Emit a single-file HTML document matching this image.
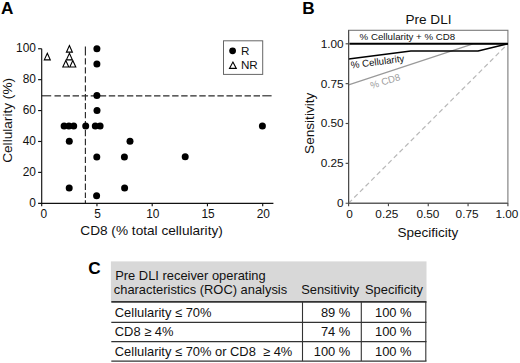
<!DOCTYPE html>
<html><head><meta charset="utf-8">
<style>
html,body{margin:0;padding:0;background:#fff;}
body{width:520px;height:363px;overflow:hidden;}
svg{display:block;font-family:"Liberation Sans",sans-serif;}
</style></head>
<body>
<svg width="520" height="363" viewBox="0 0 520 363">
<rect width="520" height="363" fill="#fff"/>
<text x="0.9" y="13.7" font-size="17.2" font-weight="bold" fill="#000">A</text>
<g stroke="#2a2a2a" stroke-width="1.15" fill="none">
<line x1="85.4" y1="46.5" x2="85.4" y2="55.6"/>
<line x1="85.4" y1="58.3" x2="85.4" y2="198" stroke-dasharray="6.3 2.65"/>
<line x1="85.4" y1="200.2" x2="85.4" y2="203.3"/>
<line x1="41.7" y1="95.8" x2="51.2" y2="95.8"/>
<line x1="54.5" y1="95.8" x2="260" y2="95.8" stroke-dasharray="6.4 2.65"/>
<line x1="262.3" y1="95.8" x2="271.6" y2="95.8"/>
</g>
<g stroke="#111" stroke-width="1.15" fill="none">
<line x1="41.7" y1="48.75" x2="41.7" y2="206.3"/>
<line x1="38.1" y1="203.3" x2="273.4" y2="203.3"/>
<line x1="38.1" y1="172.39" x2="41.7" y2="172.39"/>
<line x1="38.1" y1="141.48" x2="41.7" y2="141.48"/>
<line x1="38.1" y1="110.57" x2="41.7" y2="110.57"/>
<line x1="38.1" y1="79.66" x2="41.7" y2="79.66"/>
<line x1="38.1" y1="48.75" x2="41.7" y2="48.75"/>
<line x1="96.95" y1="203.3" x2="96.95" y2="206.3"/>
<line x1="152.20" y1="203.3" x2="152.20" y2="206.3"/>
<line x1="207.45" y1="203.3" x2="207.45" y2="206.3"/>
<line x1="262.70" y1="203.3" x2="262.70" y2="206.3"/>
</g>
<g font-size="11.9" fill="#111" text-anchor="end">
<text x="35.9" y="206.80">0</text>
<text x="35.9" y="175.89">20</text>
<text x="35.9" y="144.98">40</text>
<text x="35.9" y="114.07">60</text>
<text x="35.9" y="83.16">80</text>
<text x="35.9" y="52.25">100</text>
</g>
<g font-size="11.9" fill="#111" text-anchor="middle">
<text x="43.70" y="217.7">0</text>
<text x="97.55" y="217.7">5</text>
<text x="152.80" y="217.7">10</text>
<text x="208.05" y="217.7">15</text>
<text x="263.30" y="217.7">20</text>
</g>
<text x="80.3" y="234.5" font-size="13.65" fill="#111">CD8 (% total cellularity)</text>
<text transform="translate(12.3,120.4) rotate(-90)" text-anchor="middle" font-size="13.65" fill="#111">Cellularity (%)</text>
<g fill="#000">
<circle cx="96.9" cy="48.7" r="3.5"/>
<circle cx="96.9" cy="64.1" r="3.5"/>
<circle cx="96.9" cy="95.6" r="3.5"/>
<circle cx="97.0" cy="110.4" r="3.5"/>
<circle cx="64.1" cy="126.0" r="3.5"/>
<circle cx="68.9" cy="126.0" r="3.5"/>
<circle cx="73.7" cy="126.0" r="3.5"/>
<circle cx="85.7" cy="126.0" r="3.5"/>
<circle cx="95.3" cy="126.0" r="3.5"/>
<circle cx="100.1" cy="126.0" r="3.5"/>
<circle cx="69.3" cy="141.2" r="3.5"/>
<circle cx="130.0" cy="141.2" r="3.5"/>
<circle cx="96.8" cy="157.0" r="3.5"/>
<circle cx="124.4" cy="157.0" r="3.5"/>
<circle cx="185.2" cy="156.8" r="3.5"/>
<circle cx="262.4" cy="126.1" r="3.5"/>
<circle cx="69.2" cy="188.0" r="3.5"/>
<circle cx="124.6" cy="188.0" r="3.5"/>
<circle cx="96.6" cy="195.7" r="3.5"/>
</g>
<g fill="#fff" stroke="#000" stroke-width="1.1" stroke-linejoin="miter">
<path d="M47.30 53.30 L50.30 59.85 L44.30 59.85 Z"/>
<path d="M69.40 45.60 L72.40 52.15 L66.40 52.15 Z"/>
<path d="M65.80 60.50 L68.80 67.05 L62.80 67.05 Z"/>
<path d="M72.80 60.50 L75.80 67.05 L69.80 67.05 Z"/>
<path d="M69.40 53.30 L72.40 59.85 L66.40 59.85 Z"/>
</g>
<rect x="223.5" y="40.8" width="39.2" height="33.6" fill="#fff" stroke="#666" stroke-width="1"/>
<circle cx="232.6" cy="50.8" r="3.4" fill="#000"/>
<g fill="#fff" stroke="#000" stroke-width="1.1"><path d="M232.90 62.10 L236.30 68.40 L229.50 68.40 Z"/></g>
<text x="240.9" y="54.8" font-size="11.7" fill="#111">R</text>
<text x="240.9" y="68.6" font-size="11.7" fill="#111">NR</text>
<text x="302.2" y="13.8" font-size="17.2" font-weight="bold" fill="#000">B</text>
<text x="405.4" y="23.6" font-size="13.6" fill="#111">Pre DLI</text>
<rect x="348.6" y="30.3" width="159.3" height="172.9" fill="none" stroke="#7a7a7a" stroke-width="1.1"/>
<line x1="348.6" y1="203.2" x2="507.9" y2="43.8" stroke="#b8b8b8" stroke-width="1.2" stroke-dasharray="4.8 3.2"/>
<polyline points="348.6,84.8 473,43.8 507.9,43.8" fill="none" stroke="#9a9a9a" stroke-width="1.3"/>
<polyline points="348.6,59.0 410.8,51.0 478.1,51.0 507.9,43.8" fill="none" stroke="#000" stroke-width="1.6"/>
<line x1="349.40000000000003" y1="43.8" x2="507.9" y2="43.8" stroke="#000" stroke-width="2.1"/>
<g stroke="#4a4a4a" stroke-width="1.15" fill="none">
<line x1="348.6" y1="30.3" x2="348.6" y2="206.2"/>
<line x1="345.6" y1="203.2" x2="507.9" y2="203.2"/>
<line x1="345.6" y1="163.35" x2="348.6" y2="163.35"/>
<line x1="388.43" y1="203.2" x2="388.43" y2="206.2"/>
<line x1="345.6" y1="123.50" x2="348.6" y2="123.50"/>
<line x1="428.25" y1="203.2" x2="428.25" y2="206.2"/>
<line x1="345.6" y1="83.65" x2="348.6" y2="83.65"/>
<line x1="468.07" y1="203.2" x2="468.07" y2="206.2"/>
<line x1="345.6" y1="43.80" x2="348.6" y2="43.80"/>
<line x1="507.90" y1="203.2" x2="507.90" y2="206.2"/>
</g>
<g font-size="11.8" fill="#111" text-anchor="end">
<text x="343.6" y="47.70">1.00</text>
<text x="343.6" y="87.55">0.75</text>
<text x="343.6" y="127.40">0.50</text>
<text x="343.6" y="167.25">0.25</text>
<text x="343.6" y="207.10">0</text>
</g>
<g font-size="11.8" fill="#111" text-anchor="middle">
<text x="349.50" y="217.7">0</text>
<text x="386.82" y="217.7">0.25</text>
<text x="427.95" y="217.7">0.50</text>
<text x="467.07" y="217.7">0.75</text>
<text x="506.90" y="217.7">1.00</text>
</g>
<text x="397.5" y="237" font-size="13.5" fill="#111">Specificity</text>
<text transform="translate(313.8,123.3) rotate(-90)" text-anchor="middle" font-size="13.6" fill="#111">Sensitivity</text>
<text x="359.6" y="40.1" font-size="9.7" fill="#111">% Cellularity + % CD8</text>
<text transform="translate(351.3,68.6) rotate(-7.5)" font-size="9.7" fill="#111">% Cellularity</text>
<text transform="translate(371.6,88.9) rotate(-17)" font-size="9.7" fill="#a0a0a0">% CD8</text>
<text x="88.3" y="274.3" font-size="17.2" font-weight="bold" fill="#000">C</text>
<rect x="110.9" y="261.4" width="315.6" height="40.3" fill="#d8d8d8"/>
<g font-size="12.9" fill="#111">
<text x="115.2" y="279.5">Pre DLI receiver operating</text>
<text x="113.8" y="293.6">characteristics (ROC) analysis</text>
<text x="301.2" y="294.4">Sensitivity</text>
<text x="365" y="294.4">Specificity</text>
<text x="114.8" y="316.5">Cellularity ≤ 70%</text>
<text x="114.8" y="336">CD8 ≥ 4%</text>
<text x="114.8" y="355.5">Cellularity ≤ 70% or CD8 &#160;≥ 4%</text>
</g>
<g font-size="12.9" fill="#111" text-anchor="end">
<text x="350.3" y="316.5">89 %</text>
<text x="350.3" y="336">74 %</text>
<text x="350.3" y="355.5">100 %</text>
<text x="411.6" y="316.5">100 %</text>
<text x="411.6" y="336">100 %</text>
<text x="411.6" y="355.5">100 %</text>
</g>
<g stroke="#333" fill="none">
<line x1="111.3" y1="301.8" x2="426.5" y2="301.8" stroke-width="1.8"/>
<line x1="111.3" y1="322.4" x2="426.5" y2="322.4" stroke-width="1.3"/>
<line x1="111.3" y1="341.7" x2="426.5" y2="341.7" stroke-width="1.3"/>
<line x1="111.3" y1="361.1" x2="426.5" y2="361.1" stroke-width="1.3"/>
<line x1="302.5" y1="301.8" x2="302.5" y2="361.1" stroke-width="1.1"/>
<line x1="361.3" y1="301.8" x2="361.3" y2="361.1" stroke-width="1.1"/>
<line x1="425.8" y1="301.8" x2="425.8" y2="361.1" stroke-width="1.1"/>
</g>
</svg>
</body></html>
